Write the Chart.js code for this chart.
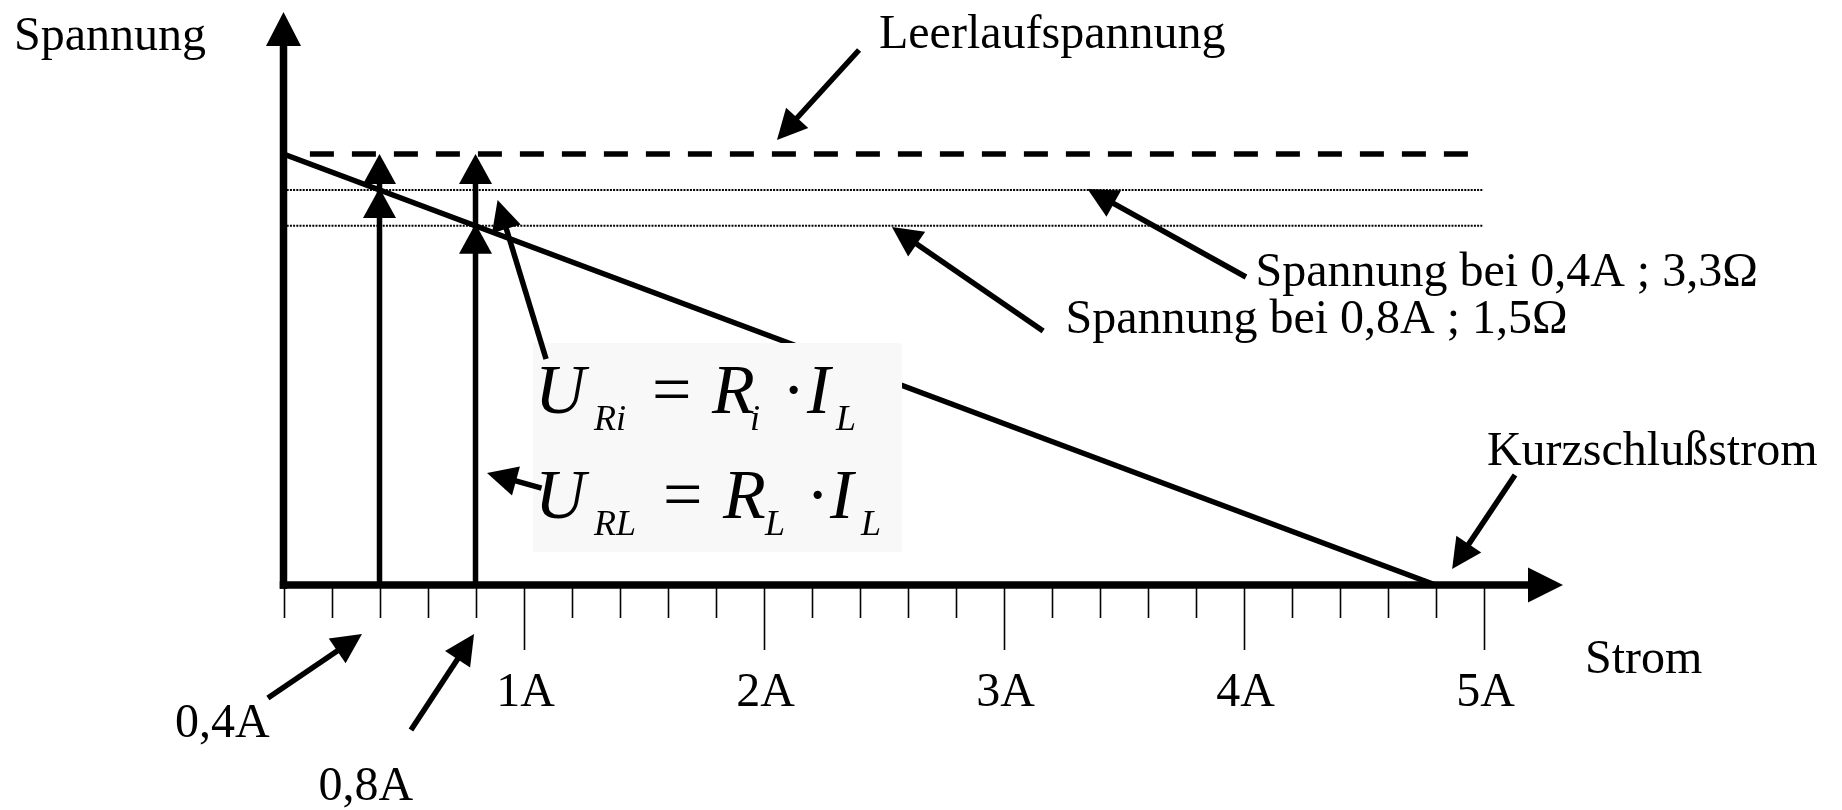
<!DOCTYPE html>
<html><head><meta charset="utf-8">
<script src="https://cdn.jsdelivr.net/npm/chart.js@4.4.0/dist/chart.umd.min.js"></script>
<style>html,body{margin:0;padding:0;background:#fff;overflow:hidden}canvas{display:block}</style>
</head><body>
<canvas id="c" width="1842" height="810"></canvas>
<script>
// ---------- data ----------
const leerlaufspannung = 1.44;        // V  (open-circuit voltage)
const kurzschlussstrom = 4.8;         // A  (short-circuit current)
const lastStroeme = [0.4, 0.8];       // A  load currents
const lastSpannungen = [1.32, 1.2];   // V  terminal voltage at those currents
const minorTicks = [0,0.2,0.4,0.6,0.8,1.2,1.4,1.6,1.8,2.2,2.4,2.6,2.8,3.2,3.4,3.6,3.8,4.2,4.4,4.6,4.8];
const majorTicks = [1,2,3,4,5];
const tickLabels = ['1A','2A','3A','4A','5A'];
const xAxisMax = 5.331;
const yAxisMax = 1.9145;
const lineEnd = 5;                    // dotted / dashed lines reach 5A
const dashStart = 0.11;

// ---------- annotations (data coordinates) ----------
const labelTexts = ['Spannung','Leerlaufspannung','Spannung bei 0,4A ; 3,3\u03A9','Spannung bei 0,8A ; 1,5\u03A9','Kurzschlu\u00DFstrom','Strom','0,4A','0,8A'];
const labelPos = [[-1.123,1.7875],[2.481,1.794],[4.050,0.999],[3.258,0.842],[5.014,0.401],[5.423,-0.294],[-0.452,-0.508],[0.146,-0.718]];
const pointerArrows = [ // [tailX, tailY, tipX, tipY]
  [2.398,1.7875,2.056,1.487],
  [4.010,1.029,3.350,1.323],
  [3.165,0.849,2.535,1.196],
  [5.131,0.3675,4.869,0.0535],
  [-0.065,-0.3775,0.327,-0.164],
  [0.531,-0.4845,0.794,-0.164],
  [1.094,0.755,0.892,1.286],
  [1.075,0.324,0.848,0.374]
];
const formulaBox = [1.0396,0.8086,2.5771,0.1102];

const SERIF = '"Liberation Serif","Times New Roman",serif';

function head(ctx, tx, ty, fx, fy, len, hw){
  const a = Math.atan2(ty-fy, tx-fx);
  const bx = tx - Math.cos(a)*len, by = ty - Math.sin(a)*len;
  const nx = -Math.sin(a)*hw, ny = Math.cos(a)*hw;
  ctx.beginPath();
  ctx.moveTo(tx,ty); ctx.lineTo(bx+nx,by+ny); ctx.lineTo(bx-nx,by-ny); ctx.closePath(); ctx.fill();
  return [bx,by];
}

const overlay = {
  id:'overlay',
  afterDatasetsDraw(chart){
    const {ctx} = chart; const X = chart.scales.x, Y = chart.scales.y;
    const px = v=>X.getPixelForValue(v), py = v=>Y.getPixelForValue(v);
    ctx.save();
    ctx.strokeStyle='#000'; ctx.fillStyle='#000'; ctx.lineCap='butt';
    const ox = px(0), oy = py(0);
    const xTip = px(X.max), yTip = py(Y.max);
    // axes
    ctx.lineWidth = 7.5;
    ctx.beginPath(); ctx.moveTo(ox, oy+3.75); ctx.lineTo(ox, yTip+30); ctx.stroke();
    ctx.beginPath(); ctx.moveTo(ox-3.75, oy); ctx.lineTo(xTip-30, oy); ctx.stroke();
    head(ctx, ox, yTip, ox, oy, 34, 17.5);
    head(ctx, xTip, oy, ox, oy, 35, 17.5);
    // ticks
    ctx.lineWidth = 1.6;
    minorTicks.forEach(v=>{ctx.beginPath(); ctx.moveTo(Math.round(px(v))+0.5, oy); ctx.lineTo(Math.round(px(v))+0.5, oy+33); ctx.stroke();});
    majorTicks.forEach(v=>{ctx.beginPath(); ctx.moveTo(Math.round(px(v))+0.5, oy); ctx.lineTo(Math.round(px(v))+0.5, oy+65); ctx.stroke();});
    ctx.font = '48px '+SERIF; ctx.textAlign='center'; ctx.textBaseline='alphabetic';
    majorTicks.forEach((v,i)=>ctx.fillText(tickLabels[i], px(v)+2, oy+121));
    // vertical arrows at load currents
    lastStroeme.forEach((I,i)=>{
      const xx = px(I), top = py(leerlaufspannung), mid = py(lastSpannungen[i]);
      ctx.lineWidth = 5.5;
      ctx.beginPath(); ctx.moveTo(xx, oy); ctx.lineTo(xx, top+28); ctx.stroke();
      head(ctx, xx, top, xx, oy, 30, 16.5);
      head(ctx, xx, mid-2, xx, oy, 30, 16.5);
    });
    // formula box
    const bL = px(formulaBox[0]), bT = py(formulaBox[1]), bR = px(formulaBox[2]), bB = py(formulaBox[3]);
    ctx.fillStyle = '#f8f8f8'; ctx.fillRect(bL, bT, bR-bL, bB-bT);
    ctx.fillStyle = '#000'; ctx.textAlign='left';
    const parts = [
      ['U','i',70,2,70],['Ri','i',36,61,87],['=','n',70,119,70],['R','i',70,179,70],['i','i',36,217,87],['\u00B7','n',70,249,70],['I','i',70,274,70],['L','i',36,303,87],
      ['U','i',70,2,175],['RL','i',36,61,192],['=','n',70,130,175],['R','i',70,190,175],['L','i',36,232,192],['\u00B7','n',70,273,175],['I','i',70,297,175],['L','i',36,328,192]
    ];
    parts.forEach(p=>{ ctx.font = (p[1]==='i'?'italic ':'')+p[2]+'px '+SERIF; ctx.fillText(p[0], bL+p[3], bT+p[4]); });
    // pointer arrows
    ctx.lineWidth = 5.5;
    pointerArrows.forEach(a=>{
      const tx=px(a[0]), ty=py(a[1]), hx=px(a[2]), hy=py(a[3]);
      const ang = Math.atan2(hy-ty, hx-tx);
      ctx.beginPath(); ctx.moveTo(tx,ty); ctx.lineTo(hx-Math.cos(ang)*26, hy-Math.sin(ang)*26); ctx.stroke();
      head(ctx, hx, hy, tx, ty, 30, 15);
    });
    // labels
    ctx.font = '48px '+SERIF; ctx.textAlign='left';
    labelTexts.forEach((t,i)=>ctx.fillText(t, px(labelPos[i][0]), py(labelPos[i][1])));
    ctx.restore();
  }
};

new Chart(document.getElementById('c'), {
  type:'scatter',
  data:{ datasets:[
    { label:'Kennlinie', data:[{x:0,y:leerlaufspannung},{x:kurzschlussstrom,y:0}], showLine:true, borderColor:'#000', borderWidth:5.5, pointRadius:0 },
    { label:'Leerlaufspannung', data:[{x:dashStart,y:leerlaufspannung},{x:lineEnd,y:leerlaufspannung}], showLine:true, borderColor:'#000', borderWidth:5.5, borderDash:[24,18], pointRadius:0 },
    { label:'U bei 0,4A', data:[{x:0,y:lastSpannungen[0]},{x:lineEnd,y:lastSpannungen[0]}], showLine:true, borderColor:'#000', borderWidth:2, borderDash:[2,1.2], pointRadius:0 },
    { label:'U bei 0,8A', data:[{x:0,y:lastSpannungen[1]},{x:lineEnd,y:lastSpannungen[1]}], showLine:true, borderColor:'#000', borderWidth:2, borderDash:[2,1.2], pointRadius:0 }
  ]},
  options:{
    responsive:false, animation:false, devicePixelRatio:1,
    layout:{ padding:{ left:283.5, right:279, top:12, bottom:225 } },
    scales:{
      x:{ type:'linear', min:0, max:xAxisMax, display:false },
      y:{ type:'linear', min:0, max:yAxisMax, display:false }
    },
    plugins:{ legend:{display:false}, tooltip:{enabled:false} },
    events:[]
  },
  plugins:[overlay]
});
</script>
</body></html>
